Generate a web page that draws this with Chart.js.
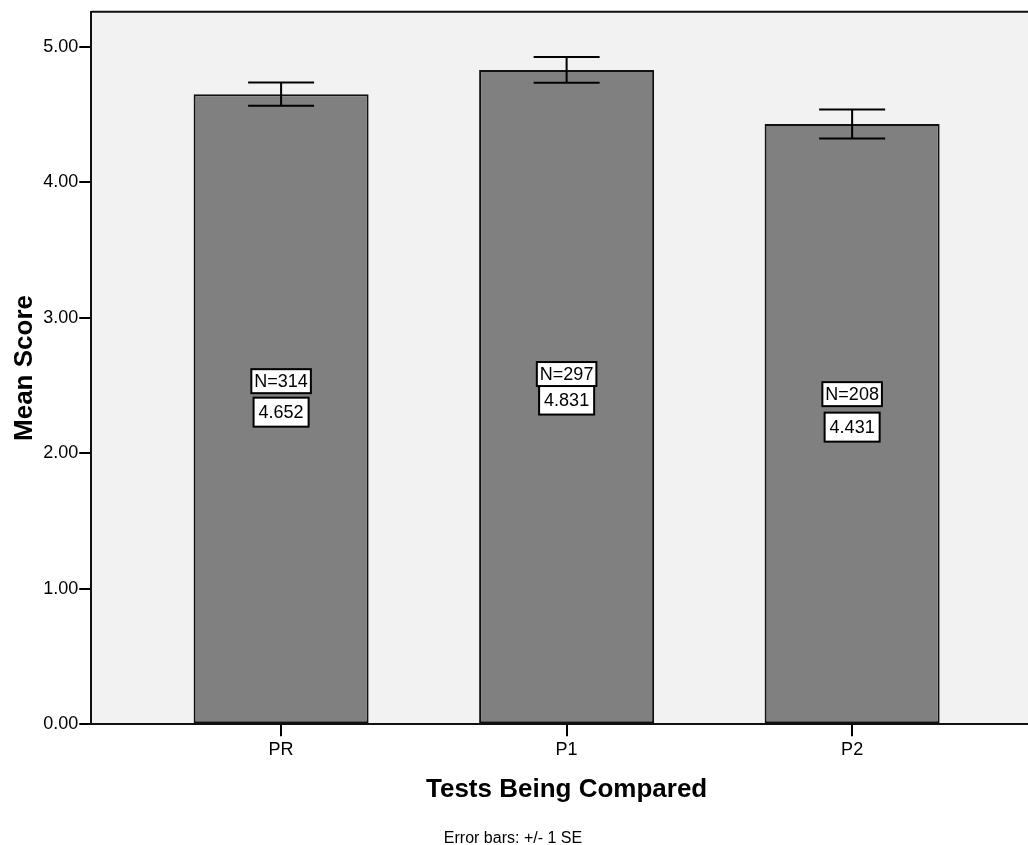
<!DOCTYPE html>
<html>
<head>
<meta charset="utf-8">
<script src="https://cdn.jsdelivr.net/npm/chart.js@4/dist/chart.umd.min.js"></script>
<style>
  html, body { margin: 0; padding: 0; background: #fff; overflow: hidden; }
  #wrap { position: absolute; left: 0; top: 0; width: 1060px; height: 845px; }
</style>
</head>
<body>
<div id="wrap"><canvas id="c"></canvas></div>
<script>
const categories = ['PR', 'P1', 'P2'];
const means = [4.652, 4.831, 4.431];
const nCounts = [314, 297, 208];
const stdErrors = [0.086, 0.095, 0.107];
const yTickValues = [0, 1, 2, 3, 4, 5];

const FONT = "'Liberation Sans', Arial, sans-serif";

const bgPlugin = {
  id: 'bg',
  beforeDraw(chart) {
    const { ctx, chartArea: a } = chart;
    ctx.save();
    ctx.fillStyle = '#f2f2f2';
    ctx.fillRect(a.left, a.top, a.right - a.left, a.bottom - a.top);
    ctx.restore();
  },
  afterDraw(chart) {
    const { ctx, chartArea: a } = chart;
    ctx.save();
    ctx.strokeStyle = '#111';
    ctx.lineWidth = 2;
    ctx.beginPath();
    ctx.moveTo(a.left, a.top);
    ctx.lineTo(a.right, a.top);
    ctx.lineTo(a.right, a.bottom);
    ctx.stroke();
    ctx.fillStyle = '#000';
    ctx.font = '16px ' + FONT;
    ctx.textAlign = 'center';
    ctx.textBaseline = 'alphabetic';
    ctx.fillText('Error bars: +/- 1 SE', 513, 843);
    ctx.restore();
  }
};

const errPlugin = {
  id: 'errbars',
  afterDatasetsDraw(chart) {
    const { ctx, scales: { x, y } } = chart;
    ctx.save();
    ctx.strokeStyle = '#000';
    ctx.lineWidth = 2;
    const cap = 33;
    means.forEach((m, i) => {
      const px = x.getPixelForValue(i);
      const top = y.getPixelForValue(m + stdErrors[i]);
      const bot = y.getPixelForValue(m - stdErrors[i]);
      ctx.beginPath();
      ctx.moveTo(px, top); ctx.lineTo(px, bot);
      ctx.moveTo(px - cap, top); ctx.lineTo(px + cap, top);
      ctx.moveTo(px - cap, bot); ctx.lineTo(px + cap, bot);
      ctx.stroke();
    });
    // label boxes
    const gaps = [31, 26, 33];
    ctx.font = '18px ' + FONT;
    ctx.textAlign = 'center';
    ctx.textBaseline = 'middle';
    means.forEach((m, i) => {
      const px = x.getPixelForValue(i);
      const vy = y.getPixelForValue(m / 2) + 3;
      const ny = vy - gaps[i];
      const drawBox = (txt, cy, padX, h) => {
        const w = ctx.measureText(txt).width + padX * 2;
        ctx.fillStyle = '#fff';
        ctx.fillRect(px - w / 2, cy - h / 2, w, h);
        ctx.strokeStyle = '#000';
        ctx.lineWidth = 2;
        ctx.strokeRect(px - w / 2, cy - h / 2, w, h);
        ctx.fillStyle = '#000';
        ctx.fillText(txt, px, cy + 1);
      };
      drawBox(m.toFixed(3), vy, 5, 29);
      drawBox('N=' + nCounts[i], ny, 3, 24);
    });
    ctx.restore();
  }
};

new Chart(document.getElementById('c'), {
  type: 'bar',
  data: {
    datasets: [{
      data: means.map((m, i) => ({ x: i, y: m })),
      backgroundColor: '#808080',
      borderColor: '#111',
      borderWidth: 2,
      borderSkipped: false,
      categoryPercentage: 1,
      barPercentage: 0.613
    }]
  },
  options: {
    responsive: true,
    maintainAspectRatio: false,
    animation: false,
    layout: { padding: { top: 11, right: 18, bottom: 40, left: 9 } },
    plugins: { legend: { display: false }, tooltip: { enabled: false } },
    scales: {
      x: {
        type: 'linear',
        offset: false,
        min: -0.665,
        max: 2.665,
        afterBuildTicks(scale) { scale.ticks = categories.map((c, i) => ({ value: i })); },
        ticks: {
          callback: (v) => categories[v],
          font: { family: FONT, size: 18 },
          color: '#000',
          padding: 3,
          maxRotation: 0,
          autoSkip: false
        },
        grid: { offset: false, drawOnChartArea: false, drawTicks: true, tickLength: 12, color: '#000', lineWidth: 2 },
        border: { display: true, color: '#111', width: 2 },
        title: {
          display: true,
          text: 'Tests Being Compared',
          font: { family: FONT, size: 26, weight: 'bold' },
          color: '#000',
          padding: { top: 10, bottom: 0 }
        }
      },
      y: {
        min: 0,
        max: 5.26,
        afterBuildTicks(scale) { scale.ticks = yTickValues.map(v => ({ value: v })); },
        ticks: {
          includeBounds: false,
          callback: (v) => Number(v).toFixed(2),
          font: { family: FONT, size: 18 },
          color: '#000',
          padding: 1
        },
        grid: { drawOnChartArea: false, drawTicks: true, tickLength: 12, color: '#000', lineWidth: 2 },
        border: { display: true, color: '#111', width: 2 },
        title: {
          display: true,
          text: 'Mean Score',
          font: { family: FONT, size: 26, weight: 'bold' },
          color: '#000',
          padding: { top: 0, bottom: 2 }
        }
      }
    }
  },
  plugins: [bgPlugin, errPlugin]
});
</script>
</body>
</html>
